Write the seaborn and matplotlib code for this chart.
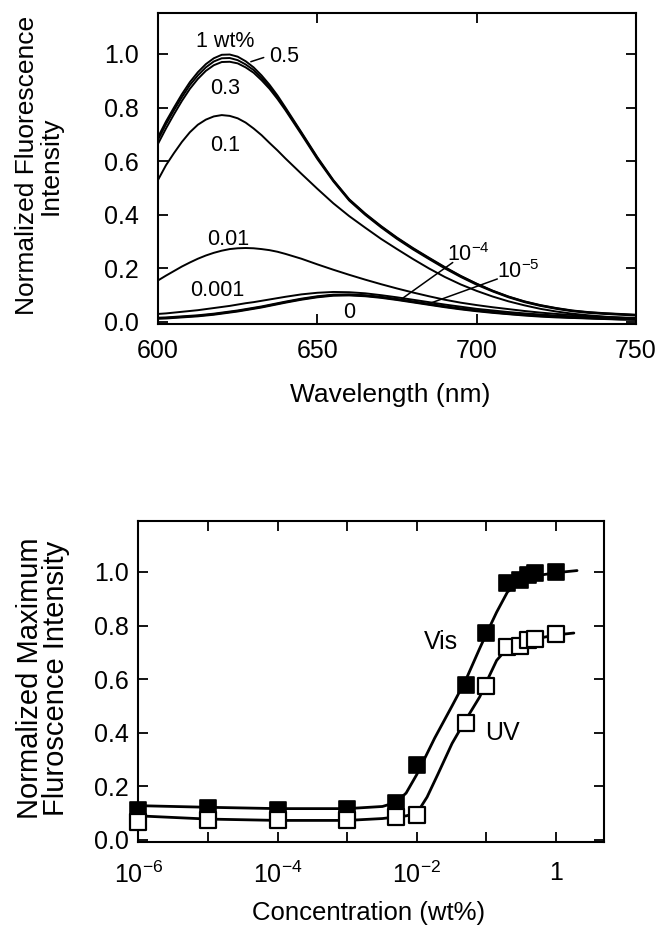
import numpy as np
import pandas as pd
import matplotlib
matplotlib.use("Agg")
import matplotlib.pyplot as plt
from matplotlib.ticker import NullLocator, FixedLocator
import seaborn as sns

# ---------------- data: top panel (spectra) ----------------
WAVELENGTH = [600, 602.5, 605, 607.5, 610, 612.5, 615, 617.5, 620, 622.5, 625, 627.5, 630,
              632.5, 635, 637.5, 640, 645, 650, 655, 660, 665, 670, 675, 680, 685, 690, 695,
              700, 705, 710, 715, 720, 725, 730, 735, 740, 745, 750]

I_1 = [0.690, 0.748, 0.800, 0.850, 0.895, 0.932, 0.962, 0.984, 0.997, 0.998, 0.990, 0.973, 0.950,
       0.920, 0.885, 0.845, 0.800, 0.708, 0.615, 0.530, 0.458, 0.405, 0.358, 0.315, 0.276, 0.240,
       0.205, 0.172, 0.143, 0.117, 0.095, 0.077, 0.063, 0.052, 0.043, 0.037, 0.033, 0.030, 0.027]
I_05 = [0.680, 0.738, 0.790, 0.839, 0.884, 0.920, 0.950, 0.972, 0.984, 0.985, 0.977, 0.961, 0.940,
        0.911, 0.877, 0.838, 0.795, 0.705, 0.612, 0.528, 0.456, 0.403, 0.356, 0.313, 0.274, 0.238,
        0.203, 0.171, 0.142, 0.116, 0.094, 0.076, 0.062, 0.051, 0.042, 0.036, 0.032, 0.029, 0.026]
I_03 = [0.665, 0.722, 0.775, 0.825, 0.870, 0.907, 0.937, 0.958, 0.970, 0.971, 0.965, 0.950, 0.930,
        0.902, 0.870, 0.832, 0.790, 0.700, 0.608, 0.525, 0.453, 0.400, 0.353, 0.310, 0.271, 0.235,
        0.200, 0.168, 0.139, 0.114, 0.092, 0.074, 0.060, 0.049, 0.040, 0.034, 0.030, 0.027, 0.024]
I_01 = [0.530, 0.585, 0.630, 0.672, 0.708, 0.736, 0.755, 0.767, 0.772, 0.769, 0.760, 0.744, 0.722,
        0.697, 0.668, 0.640, 0.610, 0.553, 0.497, 0.443, 0.395, 0.352, 0.310, 0.272, 0.235, 0.200,
        0.168, 0.140, 0.116, 0.095, 0.077, 0.062, 0.049, 0.039, 0.031, 0.025, 0.020, 0.016, 0.013]
I_001 = [0.155, 0.173, 0.190, 0.207, 0.222, 0.236, 0.248, 0.258, 0.266, 0.272, 0.275, 0.276, 0.275,
         0.272, 0.268, 0.262, 0.254, 0.236, 0.215, 0.195, 0.176, 0.158, 0.141, 0.125, 0.110, 0.096,
         0.083, 0.072, 0.063, 0.055, 0.048, 0.041, 0.035, 0.030, 0.026, 0.022, 0.019, 0.017, 0.015]
I_0001 = [0.030, 0.032, 0.035, 0.038, 0.041, 0.044, 0.048, 0.052, 0.056, 0.060, 0.065, 0.070, 0.074,
          0.079, 0.084, 0.089, 0.094, 0.103, 0.109, 0.112, 0.111, 0.107, 0.100, 0.092, 0.083, 0.074,
          0.065, 0.057, 0.049, 0.043, 0.037, 0.032, 0.028, 0.024, 0.021, 0.018, 0.016, 0.014, 0.012]
I_1e4 = [0.016, 0.017, 0.019, 0.021, 0.023, 0.025, 0.028, 0.031, 0.035, 0.039, 0.043, 0.048, 0.053,
         0.058, 0.064, 0.070, 0.076, 0.087, 0.096, 0.102, 0.103, 0.100, 0.094, 0.086, 0.077, 0.068,
         0.059, 0.051, 0.044, 0.038, 0.032, 0.027, 0.023, 0.020, 0.017, 0.015, 0.013, 0.011, 0.010]
I_1e5 = [0.014, 0.015, 0.017, 0.019, 0.021, 0.023, 0.026, 0.029, 0.033, 0.037, 0.041, 0.046, 0.051,
         0.056, 0.062, 0.068, 0.074, 0.085, 0.094, 0.100, 0.101, 0.098, 0.092, 0.084, 0.075, 0.066,
         0.057, 0.049, 0.042, 0.036, 0.030, 0.026, 0.022, 0.019, 0.016, 0.014, 0.012, 0.010, 0.009]
I_0 = [0.012, 0.013, 0.015, 0.017, 0.019, 0.021, 0.024, 0.027, 0.031, 0.035, 0.039, 0.044, 0.049,
       0.054, 0.060, 0.066, 0.072, 0.083, 0.092, 0.098, 0.099, 0.096, 0.090, 0.082, 0.073, 0.064,
       0.055, 0.047, 0.040, 0.034, 0.029, 0.024, 0.020, 0.017, 0.015, 0.013, 0.011, 0.009, 0.008]

SPECTRA = {"1 wt%": I_1, "0.5": I_05, "0.3": I_03, "0.1": I_01, "0.01": I_001,
           "0.001": I_0001, "1e-4": I_1e4, "1e-5": I_1e5, "0": I_0}

# ---------------- data: bottom panel ----------------
CONC = [1e-6, 1e-5, 1e-4, 1e-3, 5e-3, 1e-2, 5e-2, 0.1, 0.2, 0.3, 0.4, 0.5, 1.0]
VIS = [0.110, 0.118, 0.112, 0.116, 0.138, 0.280, 0.578, 0.772, 0.959, 0.970, 0.989, 0.996, 1.000]
UV = [0.067, 0.075, 0.073, 0.073, 0.086, 0.093, 0.437, 0.575, 0.721, 0.724, 0.746, 0.750, 0.769]

VIS_FIT_X = [1e-6, 1e-5, 1e-4, 1e-3, 3.2e-3, 5e-3, 7e-3, 1e-2, 1.8e-2, 3.2e-2, 5e-2, 8e-2,
             0.1, 0.14, 0.2, 0.32, 0.5, 1.0, 2.0]
VIS_FIT_Y = [0.128, 0.122, 0.117, 0.117, 0.125, 0.140, 0.175, 0.245, 0.380, 0.500, 0.595, 0.715,
             0.770, 0.850, 0.925, 0.968, 0.985, 0.997, 1.005]
UV_FIT_X = [1e-6, 1e-5, 1e-4, 1e-3, 3.2e-3, 5e-3, 7e-3, 1e-2, 1.4e-2, 2e-2, 3.2e-2, 5e-2, 8e-2,
            0.1, 0.14, 0.2, 0.32, 0.5, 1.0, 1.8]
UV_FIT_Y = [0.090, 0.078, 0.073, 0.073, 0.080, 0.086, 0.090, 0.100, 0.160, 0.245, 0.360, 0.447,
            0.534, 0.590, 0.670, 0.716, 0.737, 0.750, 0.765, 0.772]

# ---------------- style ----------------
sns.set_style("ticks")
plt.rcParams["font.family"] = ["Liberation Sans", "DejaVu Sans"]
plt.rcParams["mathtext.default"] = "regular"
plt.rcParams["axes.linewidth"] = 1.5
plt.rcParams["text.color"] = "black"
plt.rcParams["axes.labelcolor"] = "black"
plt.rcParams["xtick.color"] = "black"
plt.rcParams["ytick.color"] = "black"
plt.rcParams["axes.edgecolor"] = "black"

fig = plt.figure(figsize=(6.62, 9.27), dpi=100)
ax1 = fig.add_axes([0.2387, 0.6505, 0.722, 0.3355])
ax2 = fig.add_axes([0.2092, 0.0917, 0.7032, 0.3463])

TICK_FS = 18
ANN_FS = 15.5

# ---------------- top panel ----------------
for name, vals in SPECTRA.items():
    df = pd.DataFrame({"wl": WAVELENGTH, "I": vals})
    sns.lineplot(data=df, x="wl", y="I", ax=ax1, color="black", lw=1.4, legend=False)

ax1.set_xlim(600, 750)
ax1.set_ylim(-0.0075, 1.153)
ax1.set_xticks([600, 650, 700, 750])
ax1.set_yticks([0.0, 0.2, 0.4, 0.6, 0.8, 1.0])
ax1.set_yticklabels(["0.0", "0.2", "0.4", "0.6", "0.8", "1.0"])
ax1.set_xlabel("Wavelength (nm)", fontsize=19, va="center", color="black")
ax1.set_ylabel("Normalized Fluorescence\nIntensity", fontsize=19, va="center",
               linespacing=1.0, color="black")
ax1.xaxis.set_label_coords(0.485, -0.228)
ax1.yaxis.set_label_coords(-0.25, 0.51)

ax1.text(621, 1.045, "1 wt%", fontsize=ANN_FS, ha="center", va="center")
ax1.text(639.5, 0.99, "0.5", fontsize=ANN_FS, ha="center", va="center")
ax1.annotate("", xy=(628.3, 0.968), xytext=(634, 0.99),
             arrowprops=dict(arrowstyle="-", lw=1.1, color="black"))
ax1.text(621, 0.872, "0.3", fontsize=ANN_FS, ha="center", va="center")
ax1.text(621, 0.66, "0.1", fontsize=ANN_FS, ha="center", va="center")
ax1.text(622, 0.306, "0.01", fontsize=ANN_FS, ha="center", va="center")
ax1.text(618.6, 0.117, "0.001", fontsize=ANN_FS, ha="center", va="center")
ax1.text(660, 0.035, "0", fontsize=ANN_FS, ha="center", va="center")
ax1.text(697.4, 0.25, "$10^{-4}$", fontsize=ANN_FS, ha="center", va="center")
ax1.annotate("", xy=(676, 0.082), xytext=(693.2, 0.228),
             arrowprops=dict(arrowstyle="-", lw=1.1, color="black"))
ax1.text(713, 0.188, "$10^{-5}$", fontsize=ANN_FS, ha="center", va="center")
ax1.annotate("", xy=(683.8, 0.063), xytext=(707.3, 0.164),
             arrowprops=dict(arrowstyle="-", lw=1.1, color="black"))

# ---------------- bottom panel ----------------
ax2.set_xscale("log")
sns.lineplot(x=VIS_FIT_X, y=VIS_FIT_Y, ax=ax2, color="black", lw=2.0, zorder=2)
sns.lineplot(x=UV_FIT_X, y=UV_FIT_Y, ax=ax2, color="black", lw=2.0, zorder=2)
sns.scatterplot(x=CONC, y=VIS, ax=ax2, marker="s", s=125, color="black",
                edgecolor="black", linewidth=1.2, zorder=3, clip_on=False)
sns.scatterplot(x=CONC, y=UV, ax=ax2, marker="s", s=125, color="white",
                edgecolor="black", linewidth=1.6, zorder=3, clip_on=False)

ax2.set_xlim(1e-6, 4.88)
ax2.set_ylim(-0.0075, 1.19)
ax2.xaxis.set_major_locator(FixedLocator([1e-6, 1e-5, 1e-4, 1e-3, 1e-2, 1e-1, 1.0]))
ax2.xaxis.set_minor_locator(NullLocator())
ax2.set_xticklabels(["$10^{-6}$", "", "$10^{-4}$", "", "$10^{-2}$", "", "1"])
ax2.set_yticks([0.0, 0.2, 0.4, 0.6, 0.8, 1.0])
ax2.set_yticklabels(["0.0", "0.2", "0.4", "0.6", "0.8", "1.0"])
ax2.set_xlabel("Concentration (wt%)", fontsize=18.5, va="center", color="black")
ax2.set_ylabel("Normalized Maximum\nFluroscence Intensity", fontsize=21, va="center",
               linespacing=0.88, color="black")
ax2.xaxis.set_label_coords(0.495, -0.221)
ax2.yaxis.set_label_coords(-0.205, 0.509)

ax2.text(0.0222, 0.738, "Vis", fontsize=18, ha="center", va="center")
ax2.text(0.167, 0.398, "UV", fontsize=18, ha="center", va="center")

for ax in (ax1, ax2):
    ax.tick_params(axis="both", which="major", direction="in", length=7, width=1.3,
                   top=True, right=True, labelsize=TICK_FS, color="black",
                   labelcolor="black")
    for sp in ax.spines.values():
        sp.set_linewidth(1.5)
        sp.set_color("black")
    ax.set_facecolor("white")

ax1.tick_params(axis="x", pad=11)
ax1.tick_params(axis="y", pad=14)
ax2.tick_params(axis="x", pad=14)
ax2.tick_params(axis="y", pad=7)

fig.savefig("out.png", dpi=100, facecolor="white")
